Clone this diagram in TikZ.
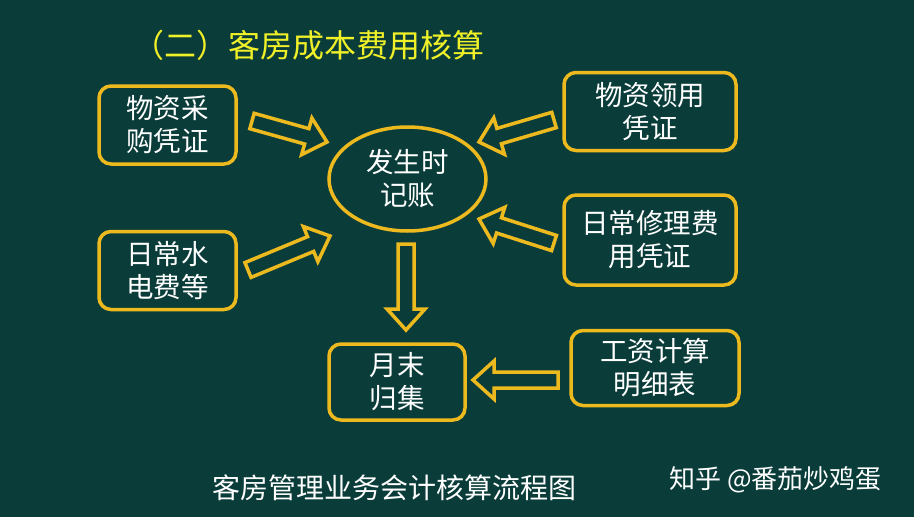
\documentclass[tikz,border=0pt]{standalone}
\usepackage{fontspec}
\newfontfamily\cjk{Noto Sans CJK SC}
\usetikzlibrary{calc,shapes.geometric}
\definecolor{bg}{RGB}{10,61,58}
\definecolor{gold}{RGB}{236,186,30}
\definecolor{ttl}{RGB}{240,240,40}
\tikzset{
  box/.style={draw=gold, line width=3.5pt, rounded corners=12pt, text=white,
    font=\cjk\fontsize{27.5}{33}\selectfont, align=center, inner sep=0pt},
  oval/.style={ellipse, draw=gold, line width=3.5pt, text=white,
    font=\cjk\fontsize{27.5}{33}\selectfont, align=center, inner sep=0pt,
    minimum width=157pt, minimum height=104pt},
  barrow/.style={draw=gold, fill=bg, line width=3.5pt, line join=miter}
}
\newcommand\blockarrow[2]{%
  \coordinate (hd) at ($(#2)!21pt!(#1)$);
  \draw[barrow] ($(#1)!8pt!90:(#2)$) -- ($(hd)!8pt!-90:(#1)$) -- ($(hd)!19pt!-90:(#1)$)
    -- (#2) -- ($(hd)!19pt!90:(#1)$) -- ($(hd)!8pt!90:(#1)$) -- ($(#1)!8pt!-90:(#2)$) -- cycle;}
\begin{document}
\begin{tikzpicture}[x=1pt,y=-1pt]
\fill[bg] (0,0) rectangle (914,517);
\useasboundingbox (0,0) rectangle (914,517);

\node[text=ttl, font=\cjk\fontsize{32}{32}\selectfont, anchor=west, inner sep=0pt] (title) at (132,45) {（二）客房成本费用核算};

\node[box, minimum width=137pt, minimum height=78pt] (cg) at (167.5,125) {物资采\\购凭证};
\node[box, minimum width=137pt, minimum height=78pt] (sd) at (167.5,270.5) {日常水\\电费等};
\node[box, minimum width=172pt, minimum height=78pt] (ly) at (650,111.5) {物资领用\\凭证};
\node[box, minimum width=172pt, minimum height=90pt] (xl) at (650,240) {日常修理费\\用凭证};
\node[box, minimum width=168pt, minimum height=75pt] (gz) at (655,368) {工资计算\\明细表};
\node[box, minimum width=136pt, minimum height=76pt] (ym) at (397,382) {月末\\归集};
\node[oval] (fs) at (407.5,179) {发生时\\记账};

\coordinate (a1s) at (252,121); \coordinate (a1e) at (327,142);
\coordinate (a2s) at (248,270); \coordinate (a2e) at (330,236);
\coordinate (a3s) at (554,120); \coordinate (a3e) at (479,142);
\coordinate (a4s) at (554,243); \coordinate (a4e) at (479,219);
\coordinate (a5s) at (406,244); \coordinate (a5e) at (406,330);
\coordinate (a6s) at (558,380); \coordinate (a6e) at (473,380);
\blockarrow{a1s}{a1e}
\blockarrow{a2s}{a2e}
\blockarrow{a3s}{a3e}
\blockarrow{a4s}{a4e}
\blockarrow{a5s}{a5e}
\blockarrow{a6s}{a6e}

\node[text=white, font=\cjk\fontsize{28}{28}\selectfont] (cap) at (394,488) {客房管理业务会计核算流程图};
\node[text=white, font=\cjk\fontsize{26}{26}\selectfont, anchor=west, inner sep=0pt] (wm) at (669,480) {知乎 @番茄炒鸡蛋};
\end{tikzpicture}
\end{document}
